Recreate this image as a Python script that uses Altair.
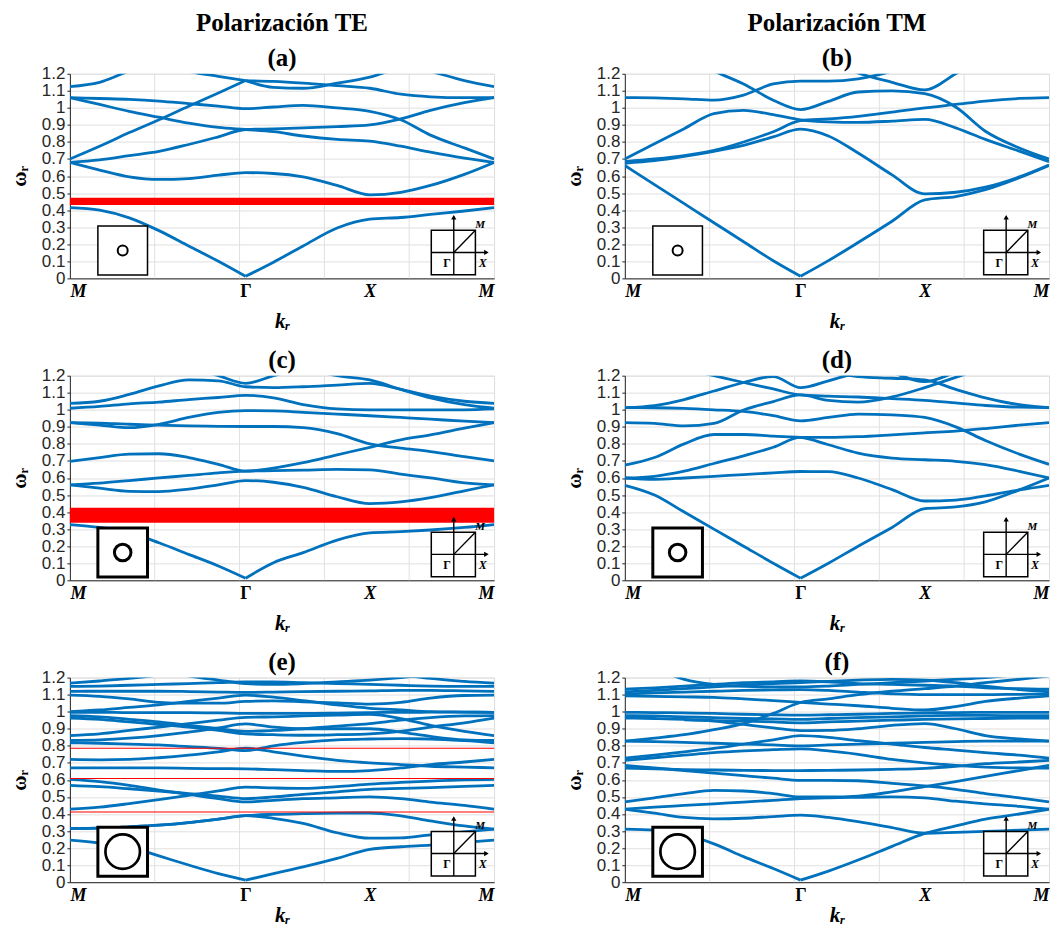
import altair as alt
import pandas as pd

# ---------------- data ----------------
K = [0.0, 0.07, 0.14, 0.21, 0.28, 0.35, 0.4142, 0.48, 0.55, 0.63, 0.7071, 0.78, 0.85, 0.93, 1.0]
SYM_K = [0.0, 0.41421, 0.70711, 1.0]
SYM_LABELS = ["M", "Γ", "X", "M"]
GRID_K = [0.2, 0.4, 0.6, 0.8]
Y_TICKS = [0.0, 0.1, 0.2, 0.3, 0.4, 0.5, 0.6, 0.7, 0.8, 0.9, 1.0, 1.1, 1.2]
COLUMN_TITLES = ["Polarización TE", "Polarización TM"]
PANEL_LABELS = ["(a)", "(b)", "(c)", "(d)", "(e)", "(f)"]
N = None

BANDS_A = [
    [0.415, 0.40, 0.355, 0.28, 0.19, 0.10, 0.012, N, N, N, N, N, N, N, N],
    [N, N, N, N, N, N, 0.012, 0.095, 0.19, 0.295, 0.347, 0.357, 0.375, 0.395, 0.415],
    [0.68, 0.635, 0.595, 0.58, 0.585, 0.605, 0.62, 0.615, 0.595, 0.545, 0.49, 0.505, 0.545, 0.61, 0.68],
    [0.68, 0.695, 0.72, 0.745, 0.785, 0.83, 0.873, 0.877, 0.882, 0.89, 0.90, 0.935, 0.985, 1.03, 1.06],
    [0.70, 0.775, 0.855, 0.93, 1.01, 1.087, 1.16, N, N, N, N, N, N, N, N],
    [N, N, N, N, N, N, 1.16, 1.12, 1.115, 1.145, 1.18, 1.24, 1.28, 1.30, 1.32],
    [1.06, 1.055, 1.05, 1.04, 1.025, 1.01, 0.995, 1.005, 1.015, 1.0, 0.98, 0.93, 0.84, 0.765, 0.70],
    [1.06, 1.02, 0.98, 0.945, 0.91, 0.885, 0.873, 0.86, 0.835, 0.815, 0.805, 0.775, 0.74, 0.705, 0.68],
    [1.125, 1.15, 1.215, 1.26, 1.29, 1.31, 1.32, 1.32, 1.32, 1.32, 1.32, 1.32, 1.32, 1.32, 1.32],
    [1.40, 1.36, 1.32, 1.28, 1.215, 1.185, 1.16, N, N, N, N, N, N, N, N],
    [N, N, N, N, N, N, 1.16, 1.155, 1.145, 1.13, 1.115, 1.08, 1.065, 1.06, 1.06],
    [1.32, 1.32, 1.32, 1.32, 1.32, 1.32, 1.32, 1.32, 1.32, 1.32, 1.30, 1.26, 1.215, 1.16, 1.125],
]
BANDS_B = [
    [0.662, 0.55, 0.438, 0.326, 0.215, 0.103, 0.012, N, N, N, N, N, N, N, N],
    [N, N, N, N, N, N, 0.012, 0.104, 0.21, 0.335, 0.46, 0.48, 0.52, 0.59, 0.662],
    [0.675, 0.69, 0.715, 0.745, 0.78, 0.83, 0.875, 0.835, 0.735, 0.607, 0.495, 0.505, 0.535, 0.595, 0.665],
    [0.70, 0.79, 0.878, 0.966, 0.985, 0.96, 0.93, 0.918, 0.915, 0.922, 0.932, 0.883, 0.815, 0.746, 0.685],
    [0.685, 0.70, 0.72, 0.75, 0.80, 0.86, 0.925, 0.935, 0.95, 0.975, 1.0, 1.02, 1.04, 1.055, 1.06],
    [1.06, 1.058, 1.053, 1.045, 1.075, 1.14, 1.157, 1.157, 1.17, 1.215, 1.28, 1.30, 1.30, 1.30, 1.30],
    [1.45, 1.37, 1.29, 1.215, 1.14, 1.045, 0.99, 1.038, 1.093, 1.10, 1.083, 1.005, 0.863, 0.765, 0.70],
    [1.50, 1.50, 1.50, 1.50, 1.50, 1.40, 1.35, 1.28, 1.205, 1.15, 1.105, 1.20, 1.30, 1.35, 1.40],
]
BANDS_C = [
    [0.327, 0.31, 0.279, 0.22, 0.152, 0.084, 0.012, N, N, N, N, N, N, N, N],
    [N, N, N, N, N, N, 0.012, 0.103, 0.162, 0.236, 0.278, 0.285, 0.295, 0.31, 0.327],
    [0.56, 0.54, 0.522, 0.52, 0.535, 0.56, 0.585, 0.575, 0.545, 0.49, 0.45, 0.46, 0.485, 0.525, 0.56],
    [0.56, 0.57, 0.585, 0.60, 0.615, 0.63, 0.64, 0.643, 0.646, 0.65, 0.648, 0.623, 0.60, 0.571, 0.56],
    [0.697, 0.72, 0.74, 0.742, 0.72, 0.68, 0.64, 0.658, 0.69, 0.736, 0.78, 0.824, 0.853, 0.892, 0.925],
    [0.925, 0.91, 0.895, 0.915, 0.955, 0.985, 0.995, 0.993, 0.985, 0.975, 0.965, 0.955, 0.945, 0.933, 0.925],
    [0.925, 0.922, 0.915, 0.91, 0.905, 0.903, 0.902, 0.902, 0.895, 0.86, 0.80, 0.775, 0.755, 0.725, 0.70],
    [1.009, 1.02, 1.035, 1.045, 1.06, 1.072, 1.085, 1.07, 1.03, 1.005, 1.0, 1.0, 1.0, 1.0, 1.005],
    [1.038, 1.05, 1.09, 1.14, 1.175, 1.17, 1.135, 1.13, 1.135, 1.145, 1.155, 1.12, 1.08, 1.05, 1.038],
    [1.45, 1.40, 1.35, 1.30, 1.25, 1.20, 1.155, 1.20, 1.25, 1.30, 1.35, 1.35, 1.35, 1.35, 1.35],
    [1.35, 1.35, 1.35, 1.35, 1.35, 1.35, 1.35, 1.30, 1.25, 1.20, 1.175, 1.12, 1.07, 1.03, 1.009],
]
BANDS_D = [
    [0.557, 0.50, 0.40, 0.30, 0.20, 0.10, 0.012, N, N, N, N, N, N, N, N],
    [N, N, N, N, N, N, 0.012, 0.10, 0.20, 0.31, 0.42, 0.43, 0.46, 0.53, 0.60],
    [0.60, 0.592, 0.60, 0.61, 0.62, 0.63, 0.638, 0.637, 0.60, 0.532, 0.465, 0.47, 0.495, 0.53, 0.557],
    [0.60, 0.61, 0.64, 0.685, 0.73, 0.78, 0.838, 0.838, 0.842, 0.853, 0.865, 0.875, 0.89, 0.91, 0.925],
    [0.675, 0.72, 0.80, 0.855, 0.855, 0.845, 0.838, 0.795, 0.746, 0.717, 0.707, 0.698, 0.678, 0.639, 0.60],
    [0.925, 0.92, 0.905, 0.92, 0.999, 1.048, 1.087, 1.055, 1.045, 1.075, 1.13, 1.19, 1.25, 1.30, 1.30],
    [1.013, 1.012, 1.008, 1.0, 0.99, 0.965, 0.935, 0.955, 0.975, 0.97, 0.955, 0.90, 0.82, 0.74, 0.68],
    [1.013, 1.025, 1.06, 1.11, 1.16, 1.195, 1.13, 1.17, 1.22, 1.28, 1.30, 1.30, 1.30, 1.30, 1.30],
    [1.32, 1.28, 1.24, 1.20, 1.16, 1.122, 1.087, 1.08, 1.075, 1.065, 1.055, 1.04, 1.025, 1.015, 1.013],
    [1.35, 1.35, 1.35, 1.35, 1.35, 1.30, 1.26, 1.22, 1.195, 1.185, 1.175, 1.12, 1.07, 1.03, 1.013],
    [1.40, 1.40, 1.40, 1.40, 1.40, 1.40, 1.40, 1.36, 1.30, 1.22, 1.165, 1.22, 1.28, 1.33, 1.36],
]
BANDS_E = [
    [0.247, 0.23, 0.206, 0.154, 0.101, 0.05, 0.012, N, N, N, N, N, N, N, N],
    [N, N, N, N, N, N, 0.012, 0.05, 0.09, 0.14, 0.193, 0.208, 0.218, 0.233, 0.247],
    [0.315, 0.317, 0.325, 0.335, 0.35, 0.37, 0.39, 0.398, 0.402, 0.405, 0.406, 0.389, 0.36, 0.33, 0.311],
    [0.315, 0.317, 0.325, 0.335, 0.35, 0.37, 0.39, 0.375, 0.345, 0.29, 0.258, 0.26, 0.278, 0.295, 0.311],
    [0.428, 0.44, 0.461, 0.485, 0.51, 0.535, 0.558, 0.553, 0.55, 0.56, 0.575, 0.585, 0.593, 0.60, 0.603],
    [0.603, 0.59, 0.568, 0.54, 0.515, 0.49, 0.471, 0.48, 0.49, 0.495, 0.50, 0.49, 0.47, 0.45, 0.428],
    [0.568, 0.56, 0.548, 0.535, 0.52, 0.505, 0.49, 0.50, 0.515, 0.53, 0.545, 0.55, 0.555, 0.562, 0.568],
    [0.671, 0.671, 0.67, 0.67, 0.668, 0.666, 0.665, 0.66, 0.655, 0.65, 0.655, 0.67, 0.69, 0.705, 0.72],
    [0.72, 0.718, 0.72, 0.73, 0.745, 0.765, 0.786, 0.765, 0.74, 0.715, 0.70, 0.69, 0.68, 0.675, 0.671],
    [0.817, 0.815, 0.81, 0.805, 0.795, 0.785, 0.772, 0.80, 0.82, 0.835, 0.84, 0.842, 0.84, 0.83, 0.817],
    [0.831, 0.835, 0.845, 0.86, 0.88, 0.905, 0.928, 0.91, 0.90, 0.90, 0.90, 0.88, 0.855, 0.835, 0.831],
    [0.86, 0.87, 0.89, 0.91, 0.93, 0.95, 0.967, 0.97, 0.975, 0.98, 0.985, 0.96, 0.92, 0.885, 0.86],
    [0.963, 0.955, 0.94, 0.925, 0.91, 0.89, 0.87, 0.865, 0.862, 0.865, 0.87, 0.885, 0.91, 0.935, 0.963],
    [0.977, 0.97, 0.955, 0.94, 0.92, 0.90, 0.885, 0.89, 0.90, 0.915, 0.93, 0.95, 0.965, 0.975, 0.977],
    [0.996, 0.996, 0.995, 0.995, 0.995, 0.993, 0.99, 0.99, 0.99, 0.992, 0.995, 0.996, 0.997, 0.997, 0.996],
    [1.0, 1.01, 1.025, 1.04, 1.06, 1.08, 1.097, 1.085, 1.065, 1.04, 1.02, 1.01, 1.0, 0.998, 0.996],
    [1.097, 1.09, 1.075, 1.055, 1.05, 1.05, 1.06, 1.063, 1.058, 1.052, 1.045, 1.055, 1.08, 1.095, 1.097],
    [1.119, 1.12, 1.12, 1.12, 1.118, 1.115, 1.113, 1.115, 1.118, 1.12, 1.122, 1.125, 1.125, 1.122, 1.119],
    [1.167, 1.18, 1.195, 1.215, 1.24, 1.26, 1.27, 1.27, 1.26, 1.25, 1.245, 1.22, 1.195, 1.178, 1.167],
    [1.148, 1.15, 1.155, 1.16, 1.165, 1.17, 1.175, 1.175, 1.17, 1.165, 1.16, 1.155, 1.15, 1.148, 1.148],
    [1.40, 1.35, 1.30, 1.25, 1.21, 1.185, 1.165, 1.16, 1.165, 1.175, 1.185, 1.20, 1.22, 1.25, 1.30],
]
BANDS_F = [
    [0.311, 0.305, 0.28, 0.225, 0.15, 0.08, 0.012, N, N, N, N, N, N, N, N],
    [N, N, N, N, N, N, 0.012, 0.065, 0.13, 0.21, 0.286, 0.33, 0.37, 0.40, 0.428],
    [0.428, 0.405, 0.38, 0.372, 0.375, 0.385, 0.393, 0.38, 0.355, 0.32, 0.287, 0.292, 0.298, 0.305, 0.311],
    [0.428, 0.44, 0.45, 0.46, 0.47, 0.48, 0.49, 0.495, 0.498, 0.50, 0.495, 0.475, 0.46, 0.445, 0.428],
    [0.471, 0.495, 0.52, 0.538, 0.535, 0.52, 0.50, 0.50, 0.505, 0.53, 0.56, 0.59, 0.62, 0.655, 0.685],
    [0.669, 0.665, 0.66, 0.658, 0.656, 0.655, 0.655, 0.656, 0.658, 0.662, 0.668, 0.68, 0.695, 0.705, 0.714],
    [0.685, 0.67, 0.655, 0.64, 0.625, 0.61, 0.597, 0.597, 0.595, 0.58, 0.565, 0.545, 0.52, 0.495, 0.471],
    [0.714, 0.73, 0.745, 0.76, 0.77, 0.777, 0.782, 0.77, 0.75, 0.72, 0.70, 0.685, 0.675, 0.67, 0.669],
    [0.728, 0.745, 0.765, 0.785, 0.81, 0.835, 0.86, 0.85, 0.83, 0.81, 0.79, 0.775, 0.76, 0.745, 0.728],
    [0.827, 0.825, 0.82, 0.815, 0.81, 0.805, 0.80, 0.805, 0.81, 0.815, 0.82, 0.825, 0.827, 0.827, 0.827],
    [0.827, 0.845, 0.865, 0.895, 0.93, 0.99, 1.054, 1.075, 1.10, 1.12, 1.135, 1.15, 1.17, 1.19, 1.21],
    [0.963, 0.96, 0.955, 0.945, 0.925, 0.905, 0.889, 0.89, 0.90, 0.92, 0.93, 0.90, 0.86, 0.84, 0.827],
    [N, N, 0.952, 0.948, 0.945, 0.94, 0.935, 0.94, 0.945, 0.95, 0.955, 0.958, 0.96, 0.962, 0.963],
    [0.977, 0.975, 0.97, 0.965, 0.96, 0.958, 0.955, 0.96, 0.965, 0.97, 0.975, 0.978, 0.978, 0.977, 0.977],
    [0.996, 0.995, 0.993, 0.99, 0.985, 0.982, 0.98, 0.982, 0.985, 0.99, 0.993, 0.995, 0.996, 0.996, 0.996],
    [1.093, 1.09, 1.087, 1.084, 1.075, 1.065, 1.055, 1.045, 1.035, 1.02, 1.01, 1.03, 1.06, 1.08, 1.093],
    [1.103, 1.11, 1.115, 1.12, 1.125, 1.128, 1.13, 1.125, 1.115, 1.105, 1.10, 1.10, 1.10, 1.102, 1.103],
    [1.117, 1.125, 1.135, 1.145, 1.155, 1.165, 1.17, 1.178, 1.185, 1.19, 1.185, 1.17, 1.15, 1.13, 1.117],
    [1.132, 1.14, 1.15, 1.16, 1.17, 1.175, 1.18, 1.175, 1.165, 1.16, 1.155, 1.15, 1.14, 1.135, 1.132],
    [1.30, 1.25, 1.19, 1.16, 1.148, 1.145, 1.145, 1.15, 1.16, 1.17, 1.18, 1.19, 1.20, 1.22, 1.25],
]
GAPS_A = [[0.43, 0.473]]
GAPS_B = []
GAPS_C = [[0.337, 0.425]]
GAPS_D = []
GAPS_E = [[0.782, 0.788], [0.605, 0.611], [0.409, 0.415]]
GAPS_F = []

# ---------------- style ----------------
BLUE = "#0072BD"
SERIF = "Liberation Serif"
SANS = "Liberation Sans"
PW, PH = 425, 205
AXIS_GREY = "#262626"
GRID_GREY = "#e0e0e0"

mids = [(SYM_K[i] + SYM_K[i + 1]) / 2 for i in range(len(SYM_K) - 1)]
label_expr = " : ".join(f"datum.value < {m:.4f} ? '{SYM_LABELS[i]}'" for i, m in enumerate(mids))
label_expr += f" : '{SYM_LABELS[-1]}'"


def x_axis(title_pad):
    return alt.Axis(
        values=SYM_K, labelExpr=label_expr, grid=False, ticks=False,
        domainColor=AXIS_GREY, domainWidth=1,
        labelFont=SERIF, labelFontSize=18, labelFontWeight="bold",
        labelFontStyle={"condition": {"test": "datum.value > 0.3 && datum.value < 0.5", "value": "normal"},
                        "value": "italic"},
        labelColor="black", labelPadding=4, labelFlush=True, labelFlushOffset=0, labelOverlap=False,
        title="kᵣ", titleFont=SERIF, titleFontSize=21, titleFontWeight="bold", titleFontStyle="italic",
        titleColor="black", titlePadding=title_pad,
    )


Y_AXIS = alt.Axis(
    values=Y_TICKS, format="~g", grid=True, gridColor=GRID_GREY, gridWidth=1,
    ticks=True, tickSize=3, tickColor=AXIS_GREY, domainColor=AXIS_GREY, domainWidth=1,
    labelFont=SANS, labelFontSize=17, labelColor=AXIS_GREY, labelPadding=2, labelOverlap=False,
    minExtent=32, maxExtent=32,
    title="ωᵣ", titleFont=SERIF, titleFontSize=21, titleFontWeight="bold", titleColor="black", titlePadding=8,
)
XS = alt.Scale(domain=[0, 1], nice=False, zero=False)
YS = alt.Scale(domain=[0, 1.2], nice=False, zero=False)

CELL_STYLES = {
    "small": dict(sq=1.5, size=100, cw=2.0),
    "medium": dict(sq=3.0, size=275, cw=3.0),
    "large": dict(sq=3.0, size=1195, cw=2.7),
}


def band_frame(bands):
    rows = []
    for i, b in enumerate(bands):
        for k, w in zip(K, b):
            if w is not None:
                rows.append({"band": i, "k": k, "w": w})
    return pd.DataFrame(rows)


def panel(idx, bands, gaps, cell, dy, dx, title_pad):
    xa = x_axis(title_pad)

    def X(f):
        return alt.X(f, type="quantitative", scale=XS, axis=xa)

    def Y(f):
        return alt.Y(f, type="quantitative", scale=YS, axis=Y_AXIS)

    layers = []
    layers.append(
        alt.Chart(pd.DataFrame({"k": GRID_K})).mark_rule(color=GRID_GREY, strokeWidth=1).encode(x=X("k"))
    )
    layers.append(
        alt.Chart(band_frame(bands)).mark_line(color=BLUE, strokeWidth=2.8, interpolate="monotone", clip=True)
        .encode(x=X("k"), y=Y("w"), detail="band:N")
    )
    if gaps:
        gdf = pd.DataFrame(gaps, columns=["lo", "hi"])
        layers.append(
            alt.Chart(gdf).mark_rect(color="#ff0000").encode(
                x=alt.value(0), x2=alt.value(PW), y=Y("lo"), y2=alt.Y2("hi"))
        )
    st = CELL_STYLES[cell]
    # unit-cell inset
    cy0, cy1 = 0.019 + dy, 0.307 + dy
    cdf = pd.DataFrame([{"x0": 0.066, "x1": 0.183, "y0": cy0, "y1": cy1, "cx": 0.1245, "cy": (cy0 + cy1) / 2}])
    layers.append(
        alt.Chart(cdf).mark_rect(fill="white", stroke="black", strokeWidth=st["sq"])
        .encode(x=X("x0"), x2=alt.X2("x1"), y=Y("y0"), y2=alt.Y2("y1"))
    )
    layers.append(
        alt.Chart(cdf).mark_point(shape="circle", filled=False, color="black", strokeWidth=st["cw"],
                                  size=st["size"], opacity=1)
        .encode(x=X("cx"), y=Y("cy"))
    )
    # Brillouin-zone inset
    bx0, bx1 = 0.852 + dx, 0.956 + dx
    by0, by1 = 0.021 + dy, 0.282 + dy
    bcx, bcy = 0.905 + dx, 0.152 + dy
    bdf = pd.DataFrame([{"x0": bx0, "x1": bx1, "y0": by0, "y1": by1}])
    layers.append(
        alt.Chart(bdf).mark_rect(fill="white", stroke="black", strokeWidth=1.5)
        .encode(x=X("x0"), x2=alt.X2("x1"), y=Y("y0"), y2=alt.Y2("y1"))
    )
    seg = pd.DataFrame([
        {"a": bcx, "b": by0, "c": bcx, "d": 0.362 + dy},
        {"a": bx0, "b": bcy, "c": 0.983 + dx, "d": bcy},
        {"a": bcx, "b": bcy, "c": bx1, "d": by1},
    ])
    layers.append(
        alt.Chart(seg).mark_rule(color="black", strokeWidth=1.4)
        .encode(x=X("a"), y=Y("b"), x2=alt.X2("c"), y2=alt.Y2("d"))
    )
    arr = pd.DataFrame([
        {"x": bcx, "y": 0.358 + dy, "s": "triangle-up"},
        {"x": 0.982 + dx, "y": bcy, "s": "triangle-right"},
    ])
    layers.append(
        alt.Chart(arr).mark_point(filled=True, color="black", size=28, opacity=1)
        .encode(x=X("x"), y=Y("y"), shape=alt.Shape("s:N", scale=None))
    )
    it = pd.DataFrame([
        {"x": 0.967 + dx, "y": 0.313 + dy, "t": "M", "fs": 11},
        {"x": 0.973 + dx, "y": 0.089 + dy, "t": "X", "fs": 12},
    ])
    layers.append(
        alt.Chart(it).mark_text(font=SERIF, fontWeight="bold", fontStyle="italic", color="black")
        .encode(x=X("x"), y=Y("y"), text="t:N", size=alt.Size("fs:Q", scale=None))
    )
    gt = pd.DataFrame([{"x": 0.889 + dx, "y": 0.089 + dy, "t": "Γ"}])
    layers.append(
        alt.Chart(gt).mark_text(font=SERIF, fontWeight="bold", fontSize=12, color="black")
        .encode(x=X("x"), y=Y("y"), text="t:N")
    )
    if idx < 2:
        ttext = [COLUMN_TITLES[idx], PANEL_LABELS[idx]]
    else:
        ttext = PANEL_LABELS[idx]
    return alt.layer(*layers).properties(
        width=PW, height=PH,
        title=alt.TitleParams(text=ttext, font=SERIF, fontSize=25, fontWeight="bold", color="black",
                              lineHeight=35, offset=-6, anchor="middle"),
    )


panels = [
    panel(0, BANDS_A, GAPS_A, "small", 0.0, 0.0, 10),
    panel(1, BANDS_B, GAPS_B, "small", 0.0, -0.006, 10),
    panel(2, BANDS_C, GAPS_C, "medium", 0.0, 0.0, 10),
    panel(3, BANDS_D, GAPS_D, "medium", 0.0, -0.006, 10),
    panel(4, BANDS_E, GAPS_E, "large", 0.016, 0.0, 0),
    panel(5, BANDS_F, GAPS_F, "large", 0.016, -0.006, 0),
]

chart = alt.concat(
    *panels, columns=2, spacing={"row": 97.5, "column": 131}, bounds="flush"
).properties(
    padding={"left": 0, "top": 1, "right": 0, "bottom": 0}
).configure_view(
    stroke=AXIS_GREY, strokeWidth=1
).configure(background="white")

chart.save("out.html", embed_options={"renderer": "svg", "actions": False})
